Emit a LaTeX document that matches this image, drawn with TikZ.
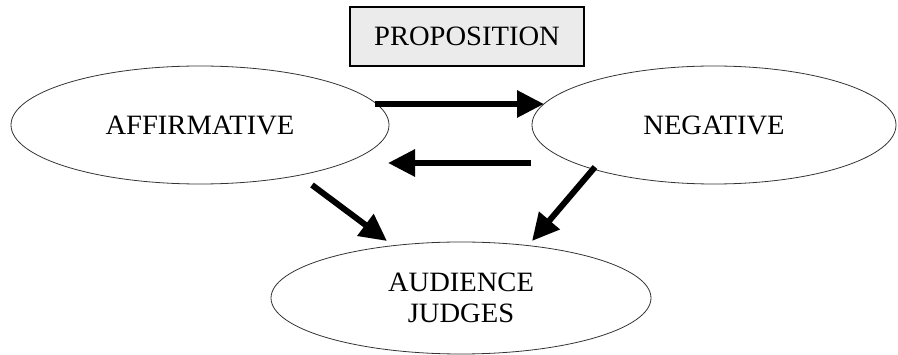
\documentclass[tikz,border=0pt]{standalone}
\usepackage{fontspec}
\setmainfont{Liberation Serif}[FakeStretch=1.02]
\usetikzlibrary{shapes.geometric,arrows.meta}
\begin{document}
\begin{tikzpicture}[x=1pt,y=-1pt,
  lbl/.style={font=\fontsize{28}{31}\selectfont, text=black},
  oval/.style={ellipse, draw=black!80, line width=0.8pt, inner sep=0pt, lbl},
  propbox/.style={rectangle, draw=black, line width=1.4pt, fill=black!8, inner sep=0pt, lbl},
  bigarrow/.style={line width=6pt, -{Triangle[length=27pt,width=26pt]}}
]
\useasboundingbox (0,0) rectangle (898,355);
\node[propbox, minimum width=234pt, minimum height=59pt] (prop) at (467,36.5) {PROPOSITION};
\node[oval, minimum width=378pt, minimum height=118pt] (aff) at (200,125) {AFFIRMATIVE};
\node[oval, minimum width=364pt, minimum height=118pt] (neg) at (714,125) {NEGATIVE};
\node[oval, minimum width=380pt, minimum height=112pt, align=center] (aud) at (461,298) {AUDIENCE\\JUDGES};
\coordinate (t1) at (375,104);
\coordinate (t2) at (544,104);
\coordinate (b1) at (531,163);
\coordinate (b2) at (388,163);
\coordinate (l1) at (312,185);
\coordinate (l2) at (387,241);
\coordinate (r1) at (595,167);
\coordinate (r2) at (532,241);
\draw[bigarrow] (t1) -- (t2);
\draw[bigarrow] (b1) -- (b2);
\draw[bigarrow] (l1) -- (l2);
\draw[bigarrow] (r1) -- (r2);
\end{tikzpicture}
\end{document}
